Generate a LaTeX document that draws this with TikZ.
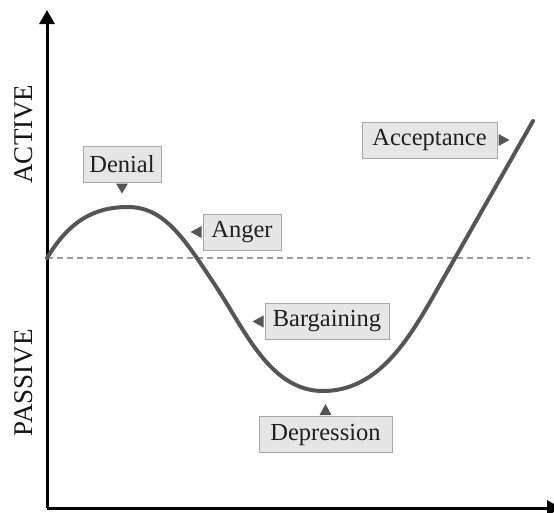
\documentclass[tikz,border=0pt]{standalone}
\usepackage{fontspec}
\setmainfont{Liberation Serif}
\usetikzlibrary{arrows.meta}
\definecolor{curvegray}{HTML}{555555}
\definecolor{boxfill}{HTML}{E6E6E6}
\definecolor{boxline}{HTML}{A8A8A8}
\definecolor{dashgray}{HTML}{9A9A9A}
\begin{document}
\begin{tikzpicture}[x=1pt,y=-1pt,
  axis/.style={line width=3pt,black,-{Triangle[width=15pt,length=14pt]}},
  stagebox/.style={draw=boxline,fill=boxfill,line width=1pt,inner sep=0pt,
    minimum height=36pt,font=\fontsize{24.5}{24.5}\selectfont,text=black!88},
  ptr/.style={fill=curvegray},
  axislabel/.style={rotate=90,font=\fontsize{27}{27}\selectfont,text=black!92}]
\useasboundingbox (0,0) rectangle (554,512);
% axes
\coordinate (origin) at (47,508);
\coordinate (ytip) at (47,10);
\coordinate (xtip) at (561,508);
\draw[axis] (origin) -- (ytip);
\draw[axis] (origin) -- (xtip);
\node[axislabel] (active) at (24,134) {ACTIVE};
\node[axislabel] (passive) at (24,383) {PASSIVE};
% boundary between active and passive
\coordinate (dashL) at (47,258);
\coordinate (dashR) at (530,258);
\draw[dashgray,line width=1.2pt,dash pattern=on 6pt off 4pt] (dashL) -- (dashR);
% the change curve
\draw[curvegray,line width=4pt,line cap=round]
  (47,258) .. controls (70,220) and (95,207) .. (128,207)
  .. controls (165,207) and (185,240) .. (215,285)
  .. controls (245,330) and (270,391) .. (323,391)
  .. controls (375,391) and (405,345) .. (430,302)
  -- (533,121);
% stage labels
\node[stagebox,minimum width=78pt] (denial) at (122,164) {Denial};
\node[stagebox,minimum width=78pt] (anger) at (242,232) {Anger};
\node[stagebox,minimum width=124pt] (bargaining) at (327,321.5) {Bargaining};
\node[stagebox,minimum width=133pt] (depression) at (325.5,434.5) {Depression};
\node[stagebox,minimum width=135pt] (acceptance) at (429.5,140) {Acceptance};
% pointers
\fill[ptr] (denial.south) ++(-6,1) -- ++(12,0) -- ++(-6,10) -- cycle;
\fill[ptr] (anger.west) ++(-1,-6) -- ++(0,12) -- ++(-11,-6) -- cycle;
\fill[ptr] (bargaining.west) ++(-1,-6) -- ++(0,12) -- ++(-11,-6) -- cycle;
\fill[ptr] (depression.north) ++(-6,-1) -- ++(12,0) -- ++(-6,-11) -- cycle;
\fill[ptr] (acceptance.east) ++(1,-6) -- ++(0,12) -- ++(11,-6) -- cycle;
\end{tikzpicture}
\end{document}
